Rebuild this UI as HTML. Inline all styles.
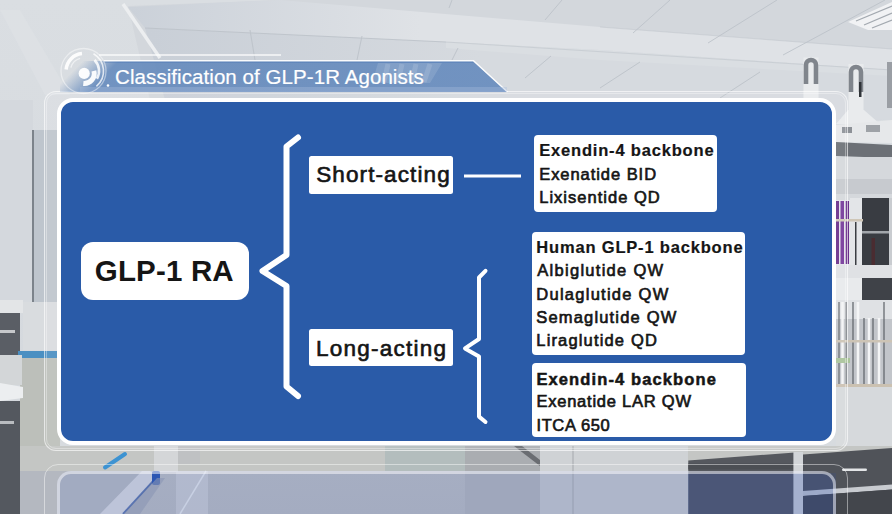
<!DOCTYPE html>
<html><head><meta charset="utf-8">
<style>
*{margin:0;padding:0;box-sizing:border-box}
html,body{width:892px;height:514px;overflow:hidden}
body{position:relative;background:#d4d8dd;font-family:"Liberation Sans",sans-serif}
.abs{position:absolute}
svg{position:absolute;left:0;top:0}
.t{position:absolute;white-space:nowrap;color:#151515;-webkit-text-stroke:0.65px #151515;line-height:40px}
.s{font-size:16.5px}
.box{position:absolute;background:#fff}
</style></head><body>
<!-- background scene -->
<svg width="892" height="514" viewBox="0 0 892 514">
  <defs>
    <linearGradient id="ceil" x1="0" y1="0" x2="0" y2="1">
      <stop offset="0" stop-color="#dadee2"/>
      <stop offset="1" stop-color="#d3d7dc"/>
    </linearGradient>
    <linearGradient id="floor" x1="0" y1="0" x2="0" y2="1">
      <stop offset="0" stop-color="#b8bcc2"/>
      <stop offset="1" stop-color="#b6bac1"/>
    </linearGradient>
    <linearGradient id="tube" x1="0" y1="0" x2="1" y2="0">
      <stop offset="0" stop-color="#e8eaec"/>
      <stop offset="0.35" stop-color="#7d8187"/>
      <stop offset="0.6" stop-color="#f2f3f4"/>
      <stop offset="1" stop-color="#9a9ea4"/>
    </linearGradient>
  </defs>
  <rect x="0" y="0" width="892" height="514" fill="url(#ceil)"/>
  <!-- ceiling panels -->
  <linearGradient id="beamg" gradientUnits="userSpaceOnUse" x1="130" y1="0" x2="420" y2="0">
    <stop offset="0" stop-color="#cbd1d9"/>
    <stop offset="1" stop-color="#dfe2e6"/>
  </linearGradient>
  <polygon points="128,6 280,0 892,0 892,120 150,100" fill="#d3d7dc"/>
  <linearGradient id="lowg" gradientUnits="userSpaceOnUse" x1="150" y1="0" x2="480" y2="0">
    <stop offset="0" stop-color="#c9cfd7"/>
    <stop offset="1" stop-color="#d6dadf"/>
  </linearGradient>
  <polygon points="145,28 446,42 600,50 892,70 892,120 165,100" fill="url(#lowg)"/>
  <polygon points="128,7 280,0 600,27 892,49 892,70 600,50 446,42 145,28" fill="url(#beamg)"/>
  <polygon points="446,42 600,50 892,70 892,76 600,60 446,48" fill="#dadee2"/>
  <line x1="123" y1="4" x2="160" y2="58" stroke="#eceef0" stroke-width="3.5"/>
  <g stroke="#bcc2c9" stroke-width="1" opacity="0.85">
    <line x1="250" y1="30" x2="255" y2="60"/>
    <line x1="362" y1="36" x2="357" y2="60"/>
    <line x1="145" y1="28" x2="446" y2="42"/>
    <line x1="446" y1="42" x2="892" y2="70" opacity="0.6"/>
    <line x1="452" y1="0" x2="449" y2="8"/>
    <line x1="562" y1="0" x2="545" y2="20"/>
    <line x1="670" y1="0" x2="633" y2="33"/>
    <line x1="777" y1="0" x2="708" y2="43"/>
    <line x1="885" y1="0" x2="783" y2="55"/>
    <line x1="600" y1="27" x2="892" y2="49" opacity="0.5"/>
    <line x1="458" y1="48" x2="452" y2="60"/>
    <line x1="640" y1="62" x2="600" y2="88"/>
    <line x1="551" y1="56" x2="525" y2="78"/>
    <line x1="760" y1="72" x2="720" y2="98"/>
  </g>
  <!-- top right light fixture -->
  <polygon points="848,22 892,2 892,30 868,30" fill="#f1f2f4"/>
  <g stroke="#a3a9b0" stroke-width="1.3">
    <line x1="856" y1="21" x2="892" y2="6"/>
    <line x1="864" y1="25" x2="892" y2="13"/>
    <line x1="872" y1="28" x2="892" y2="20"/>
  </g>
  <!-- left wall diagonal light -->
  <polygon points="0,10 20,10 70,95 45,95" fill="#dde1e5" opacity="0.8"/>
  <!-- left wall -->
  <rect x="0" y="100" width="33" height="200" fill="#d4d8dd"/>
  <rect x="33" y="130" width="27" height="172" fill="#bec5cd"/>
  <rect x="32" y="130" width="2" height="172" fill="#7c838b"/>
  <!-- left cabinet -->
  <rect x="0" y="300" width="23" height="13" fill="#e3e5e7"/>
  <rect x="0" y="313" width="20" height="42" fill="#5a5e65"/>
  <rect x="0" y="330" width="15" height="3" fill="#c6c8cb"/>
  <rect x="23" y="302" width="37" height="48" fill="#d9dcdf"/>
  <rect x="18" y="351" width="42" height="7" fill="#4a8fc2"/>
  <rect x="20" y="358" width="40" height="91" fill="#bcbfba"/>
  <rect x="0" y="355" width="22" height="30" fill="#d3d6d8"/>
  <polygon points="0,383 23,387 23,398 0,401" fill="#eceef0"/>
  <rect x="0" y="401" width="20" height="113" fill="#54585f"/>
  <rect x="0" y="421" width="14" height="3" fill="#b9bcc0"/>
  <rect x="20" y="449" width="40" height="65" fill="#b9bcb7"/>
  <!-- right side -->
  <g>
    <rect x="803.5" y="57.5" width="15" height="42" fill="#e9ebed"/>
    <path d="M806 84 L806 65 A5 5 0 0 1 816 65 L816 84" fill="none" stroke="#80858c" stroke-width="4.6"/>
    <rect x="848.5" y="64" width="15" height="46" fill="#e9ebed"/>
    <path d="M851 92 L851 72 A5 5 0 0 1 861 72 L861 92" fill="none" stroke="#80858c" stroke-width="4.6"/>
    <rect x="859" y="82" width="2.5" height="15" fill="#2f3338"/>
    <polygon points="848,110 864,110 880,124 836,124" fill="#e9ebed"/>
    <rect x="887" y="62" width="5" height="46" fill="#9a9ea4"/>
  </g>
  <polygon points="836,125 892,120 892,143 836,142" fill="#e6e8ea"/>
  <rect x="842" y="127" width="10" height="6" fill="#8d9197"/>
  <rect x="866" y="125" width="14" height="7" fill="#9ea2a7"/>
  <polygon points="836,142 892,145 892,158 836,156" fill="#6c7076"/>
  <rect x="836" y="157" width="56" height="43" fill="#d5d8dc"/>
  <rect x="836" y="179" width="56" height="15" fill="#c7cacf"/>
  <!-- purple tubes -->
  <rect x="836" y="200" width="14" height="65" fill="#e4e4ea"/>
  <rect x="836" y="201" width="3" height="63" fill="#6a2f8a"/>
  <rect x="840.5" y="201" width="3.5" height="63" fill="#75389a"/>
  <rect x="845.5" y="201" width="3.5" height="63" fill="#6a2f8a"/>
  <rect x="850" y="198" width="12" height="67" fill="#e3e5e8"/>
  <rect x="855" y="222" width="1.5" height="43" fill="#3a3d42"/>
  <rect x="862" y="198" width="27" height="67" fill="#393c42"/>
  <rect x="889" y="198" width="3" height="67" fill="#c9ccd0"/>
  <rect x="862" y="231" width="27" height="2.5" fill="#a2a6ab"/>
  <rect x="871.5" y="238" width="3.5" height="27" fill="#4a2c31"/>
  <rect x="836" y="219" width="27" height="2.5" fill="#cfc6b7"/>
  <rect x="836" y="265" width="56" height="13" fill="#dfe1e4"/>
  <rect x="836" y="278" width="26" height="22" fill="#e8eaec"/>
  <rect x="862" y="278" width="30" height="22" fill="#3f4248"/>
  <!-- glassware -->
  <rect x="836" y="300" width="56" height="86" fill="#c2c5ca"/>
  <rect x="836" y="300" width="56" height="19" fill="#dfe1e4"/>
  <g stroke="#5d6167" stroke-width="1.2">
    <line x1="839" y1="302" x2="839" y2="384"/>
    <line x1="846" y1="302" x2="846" y2="384"/>
    <line x1="853" y1="302" x2="853" y2="384"/>
    <line x1="864" y1="318" x2="864" y2="384"/>
    <line x1="873" y1="318" x2="873" y2="384"/>
    <line x1="884" y1="302" x2="884" y2="384"/>
  </g>
  <g stroke="#f4f5f6" stroke-width="2.5">
    <line x1="842.5" y1="302" x2="842.5" y2="384"/>
    <line x1="858" y1="302" x2="858" y2="384"/>
    <line x1="869" y1="318" x2="869" y2="384"/>
    <line x1="879" y1="318" x2="879" y2="384"/>
  </g>
  <rect x="836" y="340" width="56" height="2.5" fill="#cdc4b5"/>
  <rect x="836" y="358" width="14" height="5" fill="#a9c39a"/>
  <rect x="836" y="384" width="56" height="3" fill="#cbc1b1"/>
  <rect x="836" y="387" width="56" height="63" fill="#d6d9dc"/>
  <!-- band under the panel -->
  <rect x="20" y="446" width="872" height="26" fill="#c4c6c4"/>
  <!-- floor -->
  <rect x="20" y="471" width="680" height="43" fill="url(#floor)"/>
  <!-- band variations -->
  <rect x="385" y="446" width="80" height="25" fill="#b3bdbd"/>
  <rect x="465" y="446" width="75" height="25" fill="#aaadb1"/>
  <polygon points="514,446 522,446 540,460 540,466" fill="#6a6d72"/>
  <rect x="540" y="446" width="148" height="25" fill="#cfd2d5"/>
  <rect x="465" y="471" width="75" height="43" fill="#b0b4bb"/>
  <rect x="540" y="471" width="148" height="43" fill="#c2c5cb"/>
  <line x1="573" y1="446" x2="573" y2="514" stroke="#a5a8ad" stroke-width="1"/>
  <!-- floor objects -->
  <rect x="154" y="446" width="24" height="26" fill="#d4d6d8"/>
  <rect x="178" y="446" width="22" height="18" fill="#bfc1c3"/>
  <polygon points="20,471 160,471 118,514 20,514" fill="#b4b8c0"/>
  <polygon points="100,514 124,514 157,476 150,471 142,471" fill="#d3d6dd"/>
  <line x1="123" y1="514" x2="156" y2="478" stroke="#3a5aa0" stroke-width="2" opacity="0.75"/>
  <rect x="152" y="471" width="8" height="14" rx="2" fill="#2a55b0"/>
  <polygon points="124,514 157,478 165,478 140,514" fill="#9aa0b0" opacity="0.6"/>
  <rect x="176" y="471" width="32" height="43" fill="#cfd2d8" opacity="0.6"/>
  <line x1="180" y1="514" x2="206" y2="471" stroke="#e0e3e8" stroke-width="1.5"/>
  <line x1="105" y1="467.5" x2="125" y2="454" stroke="#3d93d2" stroke-width="4" stroke-linecap="round"/>
  <!-- bottom right cabinets -->
  <polygon points="688.3,460.4 795,452.6 795,514 688.3,514" fill="#55585e"/>
  <rect x="688.3" y="463.5" width="106" height="6" fill="#4c4f54"/>
  <rect x="793.4" y="452" width="9.6" height="62" fill="#d2d5d8"/>
  <polygon points="803,454.5 892,448 892,514 803,514" fill="#505359"/>
  <rect x="842" y="468.5" width="25" height="2.6" rx="1.3" fill="#e3e5e7"/>
  <polygon points="803,491 892,484.5 892,489.5 803,496" fill="#c8cbd0"/>
  <polygon points="803,496 892,489.5 892,514 803,514" fill="#43464c"/>
  <rect x="688" y="473" width="148" height="41" fill="#2a4fb0" opacity="0.16"/>
</svg>

<!-- faint outer frames -->
<div class="abs" style="left:43.5px;top:91px;width:804px;height:360px;border:1.2px solid rgba(255,255,255,0.6);border-radius:12px;background:rgba(255,255,255,0.08)"></div>
<div class="abs" style="left:45.5px;top:93px;width:800px;height:356px;border:1px solid rgba(255,255,255,0.35);border-radius:10px"></div>
<div class="abs" style="left:44px;top:464px;width:804px;height:80px;border:1.5px solid rgba(255,255,255,0.45);border-radius:14px"></div>
<div class="abs" style="left:57px;top:471px;width:779px;height:80px;border:3px solid rgba(255,255,255,0.5);border-radius:14px;background:rgba(60,90,200,0.14)"></div>

<!-- title banner -->
<svg width="892" height="514" viewBox="0 0 892 514">
  <defs>
    <linearGradient id="ban" gradientUnits="userSpaceOnUse" x1="72" y1="72" x2="90" y2="90">
      <stop offset="0" stop-color="#5f86bb" stop-opacity="0"/>
      <stop offset="1" stop-color="#5f86bb" stop-opacity="0.85"/>
    </linearGradient>
  </defs>
  <line x1="99" y1="55" x2="281" y2="55" stroke="#fff" stroke-width="1.5" opacity="0.85"/>
  <polygon points="60,61 473,61 507,92 60,92" fill="url(#ban)"/>
  <line x1="104" y1="62" x2="473" y2="62" stroke="#4a75b3" stroke-width="1.2" opacity="0.7"/>
  <polyline points="104,60.8 473.5,60.8 507.5,92" fill="none" stroke="#fff" stroke-width="1.4" opacity="0.9"/>
  <rect x="80" y="87" width="427" height="5" fill="#a9bedc" opacity="0.35"/>
  <polygon points="378,63 442,63 430,83 372,83" fill="#ffffff" opacity="0.12"/>
  <g stroke="#ffffff" stroke-width="5" opacity="0.13">
    <line x1="388" y1="64" x2="384" y2="82"/>
    <line x1="402" y1="64" x2="398" y2="82"/>
    <line x1="416" y1="64" x2="412" y2="82"/>
    <line x1="430" y1="64" x2="424" y2="82"/>
  </g>
  <!-- logo -->
  <g fill="none" stroke="#fff" stroke-linecap="butt">
    <circle cx="83.5" cy="71" r="22.5" stroke-width="1.3" opacity="0.45"/>
    <path d="M 66.1 69.5 A 17.5 17.5 0 0 1 82 53.6" stroke-width="3.5" opacity="0.9"/>
    <path d="M 70.9 67.6 A 13 13 0 0 1 80.1 58.4" stroke-width="1.5" opacity="0.55"/>
    <path d="M 93.5 53.7 A 20 20 0 0 1 96.4 86.3" stroke-width="1.6" opacity="0.75"/>
    <path d="M 94.5 60 A 15.5 15.5 0 0 1 96.9 78.75" stroke-width="2.6" opacity="0.85"/>
    <path d="M 93.9 70.8 A 10 10 0 0 1 83.3 83.4" stroke-width="5" opacity="0.95"/>
  </g>
  <circle cx="84.2" cy="73.4" r="5.6" fill="#fff" opacity="0.95"/>
  <circle cx="108" cy="85.5" r="1.3" fill="#fff"/>
</svg>
<div class="t" style="left:115.1px;top:57.4px;font-size:20.5px;color:#fff;letter-spacing:0.07px;-webkit-text-stroke:0.2px #fff">Classification of GLP-1R Agonists</div>

<!-- blue panel -->
<div class="abs" style="left:56.8px;top:98px;width:779.2px;height:347.2px;border:4.3px solid #fff;border-radius:16px;background:#2a5ba8"></div>

<!-- brackets & connector -->
<svg width="892" height="514" viewBox="0 0 892 514">
  <g fill="none" stroke="#fff" stroke-linecap="round" stroke-linejoin="round">
    <polyline points="298,137.5 286.5,146.5 286.5,255 262.5,271 286.5,286 286.5,386.5 298,396" stroke-width="6"/>
    <polyline points="485.5,270.8 479,277.5 479,339 465,348.4 479,356.5 479,416.6 485.5,422" stroke-width="4"/>
  </g>
  <line x1="464" y1="176" x2="521" y2="176" stroke="#fff" stroke-width="3"/>
</svg>

<!-- GLP-1 RA -->
<div class="box" style="left:80.5px;top:241.7px;width:168.3px;height:58.3px;border-radius:12px"></div>
<div class="t" style="left:94.8px;top:251.4px;font-size:29.5px;font-weight:700;letter-spacing:0.17px;-webkit-text-stroke:0">GLP-1 RA</div>

<!-- Short-acting -->
<div class="box" style="left:308.7px;top:156.3px;width:144px;height:37.7px;border-radius:2.5px"></div>
<div class="t" style="left:316.2px;top:155px;font-size:22.5px;letter-spacing:1.11px">Short-acting</div>

<!-- Long-acting -->
<div class="box" style="left:308.8px;top:329.2px;width:144.2px;height:37.3px;border-radius:2.5px"></div>
<div class="t" style="left:316px;top:328.8px;font-size:22.5px;letter-spacing:1.25px">Long-acting</div>

<!-- short box -->
<div class="box" style="left:533.8px;top:135px;width:183.4px;height:77px;border-radius:4px"></div>
<div class="t s" style="left:539.2px;top:129.7px;font-weight:700;letter-spacing:0.82px;-webkit-text-stroke:0.2px #151515">Exendin-4 backbone</div>
<div class="t s" style="left:539.2px;top:153.7px;letter-spacing:0.95px">Exenatide BID</div>
<div class="t s" style="left:539.2px;top:176.9px;letter-spacing:1.02px">Lixisentide QD</div>

<!-- human box -->
<div class="box" style="left:532px;top:232.4px;width:213px;height:123.1px;border-radius:4px"></div>
<div class="t s" style="left:536.3px;top:227.4px;font-weight:700;letter-spacing:0.82px;-webkit-text-stroke:0.2px #151515">Human GLP-1 backbone</div>
<div class="t s" style="left:537.3px;top:250.1px;letter-spacing:1.28px">Albiglutide QW</div>
<div class="t s" style="left:536.3px;top:273.6px;letter-spacing:1.26px">Dulaglutide QW</div>
<div class="t s" style="left:536.3px;top:296.9px;letter-spacing:1.17px">Semaglutide QW</div>
<div class="t s" style="left:536.3px;top:320.4px;letter-spacing:1.16px">Liraglutide QD</div>

<!-- exendin long box -->
<div class="box" style="left:532px;top:362.6px;width:213.5px;height:74.8px;border-radius:4px"></div>
<div class="t s" style="left:536.4px;top:358.7px;font-weight:700;letter-spacing:1.12px;-webkit-text-stroke:0.5px #151515">Exendin-4 backbone</div>
<div class="t s" style="left:536.4px;top:381.3px;letter-spacing:0.77px">Exenatide LAR QW</div>
<div class="t s" style="left:536.4px;top:404.7px;letter-spacing:0.66px">ITCA 650</div>

</body></html>
